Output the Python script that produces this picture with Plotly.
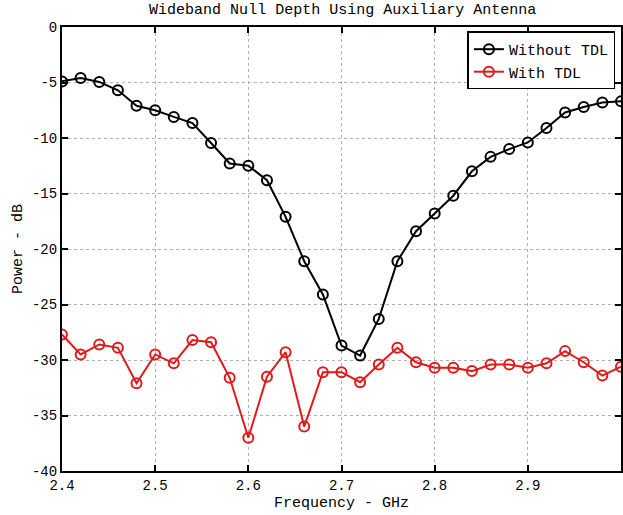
import plotly.graph_objects as go

freq = [round(2.40 + 0.02 * i, 2) for i in range(31)]
without_tdl = [-4.9, -4.6, -4.95, -5.7, -7.1, -7.5, -8.1, -8.65, -10.45, -12.3,
               -12.5, -13.8, -17.1, -21.1, -24.1, -28.7, -29.6, -26.3, -21.1, -18.4,
               -16.8, -15.2, -13.0, -11.7, -11.0, -10.4, -9.1, -7.7, -7.2, -6.8, -6.7]
with_tdl = [-27.7, -29.5, -28.6, -28.9, -32.1, -29.5, -30.3, -28.2, -28.4, -31.6,
            -37.0, -31.5, -29.3, -36.0, -31.1, -31.1, -32.0, -30.4, -28.9, -30.2,
            -30.7, -30.7, -31.0, -30.4, -30.4, -30.7, -30.3, -29.2, -30.2, -31.4, -30.6]
x_ticks = [2.4, 2.5, 2.6, 2.7, 2.8, 2.9]
y_ticks = [0, -5, -10, -15, -20, -25, -30, -35, -40]

FONT = "Courier New, Liberation Mono, monospace"
RED = "#e01a1a"

fig = go.Figure()
fig.add_trace(go.Scatter(x=freq, y=without_tdl, mode="lines+markers", name="Without TDL",
                         line=dict(color="black", width=2),
                         marker=dict(symbol="circle-open", size=10, color="black",
                                     line=dict(width=2, color="black"))))
fig.add_trace(go.Scatter(x=freq, y=with_tdl, mode="lines+markers", name="With TDL",
                         line=dict(color=RED, width=2),
                         marker=dict(symbol="circle-open", size=10, color=RED,
                                     line=dict(width=2, color=RED))))

axis_common = dict(showline=True, linecolor="black", linewidth=2, mirror="ticks",
                   ticks="inside", ticklen=6, tickwidth=2, tickcolor="black",
                   showgrid=True, gridcolor="#b0b0b0", griddash="dot", gridwidth=1,
                   zeroline=False, tickfont=dict(family=FONT, size=14, color="black"))

fig.update_layout(
    width=623, height=515,
    margin=dict(l=62, r=0, t=27, b=44),
    paper_bgcolor="white", plot_bgcolor="white",
    title=dict(text="Wideband Null Depth Using Auxiliary Antenna", x=0.55, xanchor="center",
               y=0.993, yanchor="top", font=dict(family=FONT, size=15, color="black")),
    xaxis=dict(range=[2.4, 3.0], tickvals=x_ticks, ticktext=[str(v) for v in x_ticks],
               title=dict(text="Frequency - GHz", font=dict(family=FONT, size=15, color="black"),
                          standoff=4),
               **axis_common),
    yaxis=dict(range=[-40, 0], tickvals=y_ticks, ticktext=[str(v) for v in y_ticks],
               title=dict(text="Power - dB", font=dict(family=FONT, size=15, color="black"),
                          standoff=6),
               **axis_common),
    legend=dict(x=0.99, y=0.99, xanchor="right", yanchor="top",
                bordercolor="black", borderwidth=1.5, bgcolor="white",
                font=dict(family=FONT, size=15, color="black"),
                tracegroupgap=0, itemwidth=30),
    showlegend=True,
)

fig.write_html("out.html", config={"displayModeBar": False},
               post_script="document.body.style.margin='0';document.body.style.padding='0';")
